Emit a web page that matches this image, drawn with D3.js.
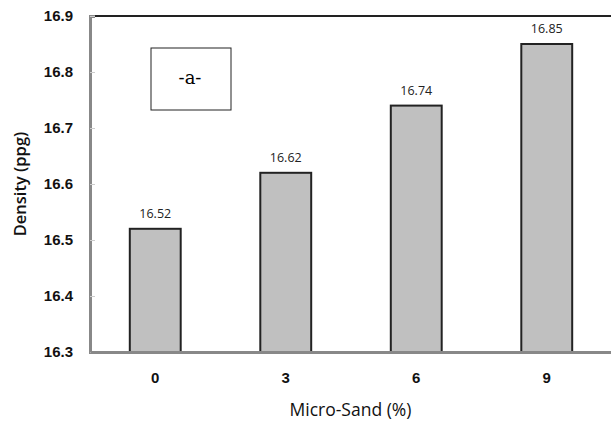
<!DOCTYPE html>
<html>
<head>
<meta charset="utf-8">
<script src="https://cdn.jsdelivr.net/npm/d3@7"></script>
<style>
  body { margin: 0; background: #fff; }
  svg { display: block; font-family: "Open Sans", "Liberation Sans", sans-serif; }
  .tag { font-family: "DejaVu Serif", serif; }
</style>
</head>
<body>
<svg id="chart"></svg>
<script>
// 数据
const categories = ["0", "3", "6", "9"];
const densities = [16.52, 16.62, 16.74, 16.85];
const yTicks = [16.3, 16.4, 16.5, 16.6, 16.7, 16.8, 16.9];

const width = 611, height = 424;
const margin = { top: 16, right: -1, bottom: 72, left: 90 };

const svg = d3.select("#chart")
    .attr("width", width)
    .attr("height", height);

const x = d3.scaleBand()
    .domain(categories)
    .range([margin.left, width - margin.right])
    .paddingInner(0.61)
    .paddingOuter(0.305);

const y = d3.scaleLinear()
    .domain([16.3, 16.9])
    .range([height - margin.bottom, margin.top]);

// 柱子
svg.selectAll(".bar")
    .data(densities)
    .join("rect")
    .attr("class", "bar")
    .attr("x", (d, i) => x(categories[i]))
    .attr("y", d => y(d))
    .attr("width", x.bandwidth())
    .attr("height", d => y(16.3) - y(d))
    .attr("fill", "#c0c0c0")
    .attr("stroke", "#222")
    .attr("stroke-width", 2);

// 数值标签
svg.selectAll(".val")
    .data(densities)
    .join("text")
    .attr("class", "val")
    .attr("x", (d, i) => x(categories[i]) + x.bandwidth() / 2)
    .attr("y", d => y(d) - 11)
    .attr("text-anchor", "middle")
    .style("font-size", "12.5px")
    .style("fill", "#222")
    .text(d => d.toFixed(2));

// 顶部边框
svg.append("line")
    .attr("x1", margin.left).attr("x2", width)
    .attr("y1", y(16.9)).attr("y2", y(16.9))
    .attr("stroke", "#222").attr("stroke-width", 2);

// Y 轴
const yAxis = svg.append("g")
    .attr("transform", `translate(${margin.left},0)`)
    .call(d3.axisLeft(y).tickValues(yTicks).tickFormat(d3.format(".1f")).tickSize(-5).tickPadding(17));
yAxis.select(".domain").attr("stroke", "#888").attr("stroke-width", 3);
yAxis.selectAll(".tick line").attr("stroke", "#ccc");
yAxis.selectAll("text").style("font-size", "15px").style("fill", "#111").style("font-weight", "600");

// X 轴
const xAxis = svg.append("g")
    .attr("transform", `translate(0,${y(16.3)})`)
    .call(d3.axisBottom(x).tickSize(0).tickPadding(20));
xAxis.select(".domain").attr("stroke", "#888").attr("stroke-width", 3);
xAxis.selectAll("text").style("font-size", "15px").style("fill", "#111").style("font-weight", "600");

// 轴标题
svg.append("text")
    .attr("x", (margin.left + width) / 2)
    .attr("y", 416)
    .attr("text-anchor", "middle")
    .style("font-size", "17.5px")
    .style("fill", "#111")
    .text("Micro-Sand (%)");

svg.append("text")
    .attr("transform", `translate(26,${(y(16.3) + y(16.9)) / 2}) rotate(-90)`)
    .attr("text-anchor", "middle")
    .style("font-size", "16.5px")
    .style("fill", "#111")
    .style("font-weight", "600")
    .text("Density (ppg)");

// 标注框 -a-
svg.append("rect")
    .attr("x", 151).attr("y", 48)
    .attr("width", 80).attr("height", 62)
    .attr("fill", "#fff")
    .attr("stroke", "#222")
    .attr("stroke-width", 1);

svg.append("text")
    .attr("class", "tag")
    .attr("x", 190).attr("y", 84)
    .attr("text-anchor", "middle")
    .style("font-size", "18px")
    .text("-a-");
</script>
</body>
</html>
